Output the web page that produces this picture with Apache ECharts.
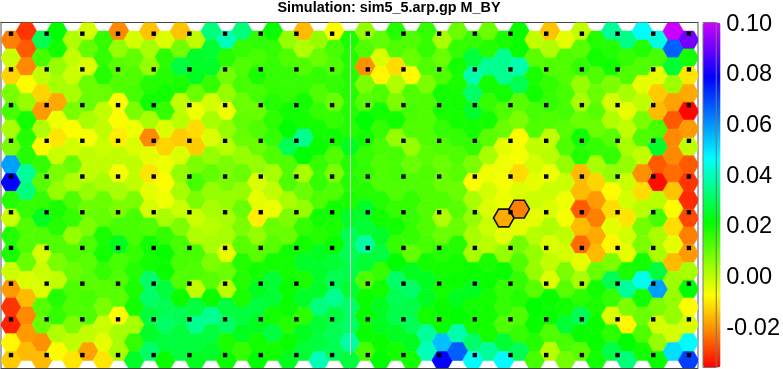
<!DOCTYPE html>
<html>
<head>
<meta charset="utf-8">
<style>
  html, body { margin: 0; padding: 0; background: #fff; }
  #chart { width: 783px; height: 369px; }
</style>
</head>
<body>
<div id="chart"></div>
<script src="https://cdn.jsdelivr.net/npm/echarts@6/dist/echarts.min.js"></script>
<script>
// values in thousandths, one list per zigzag row, 45 columns each
const row00 = [-22,-30,30,22,2,-2,16,-21,-2,-14,-3,-14,0,34,40,34,17,21,5,-15,5,-7,19,5,11,18,13,16,3,10,16,10,19,21,0,-14,-4,0,18,37,35,47,44,100,91]
const row01 = [-1,-26,14,20,0,11,16,5,11,3,17,9,26,27,18,16,14,16,13,2,10,14,18,13,-3,13,10,16,10,16,28,18,36,21,12,2,13,12,20,18,16,18,14,67,20]
const row02 = [-12,-21,0,5,-1,-3,18,12,13,5,18,28,25,26,9,13,19,16,16,13,16,13,18,-20,-8,-11,-7,13,13,20,39,36,36,39,19,13,13,16,13,20,13,13,-4,27,-10]
const row03 = [8,-7,-12,3,3,10,10,13,14,18,20,19,10,16,5,14,14,16,16,16,13,16,18,8,13,2,13,8,20,19,32,20,20,30,20,16,14,5,10,8,3,-4,-13,4,-17]
const row04 = [14,5,-19,-17,8,10,0,-7,8,20,16,0,-5,-2,-5,10,10,18,20,20,16,10,18,12,20,8,14,13,19,20,26,16,13,12,14,16,14,3,12,-2,-4,0,-15,-18,-35]
const row05 = [3,20,2,-5,-7,3,0,-7,-5,3,-3,1,-11,3,5,11,13,17,22,20,20,16,18,22,16,20,13,13,16,20,20,20,10,8,13,13,12,10,10,2,0,8,14,-26,-19]
const row06 = [8,18,-7,-10,-2,-6,-1,-9,-3,-21,-12,-13,-13,-3,1,10,10,16,30,36,21,20,25,20,14,5,5,13,13,16,16,12,-4,-7,0,0,13,20,16,12,3,13,26,-21,0]
const row07 = [59,18,16,-1,10,0,0,0,0,-4,-5,-3,8,5,8,5,5,13,13,22,16,13,18,16,13,14,10,12,10,13,8,3,-5,-6,-2,1,5,18,3,16,5,0,-26,-21,-26]
const row08 = [79,37,12,8,2,0,3,-6,0,-10,-7,5,14,11,8,10,-3,3,13,3,16,8,18,16,13,14,13,13,10,12,-7,-5,-6,-11,-4,-5,-1,-15,-12,5,-1,-20,-34,-24,-30]
const row09 = [18,34,16,5,13,5,10,3,8,-4,-5,3,8,5,5,5,-4,0,3,10,13,13,19,18,18,13,16,13,13,10,3,-2,-5,-3,-1,-1,-5,-15,-19,-7,-2,-11,1,-14,-31]
const row10 = [-1,16,25,19,16,10,11,8,14,-2,3,-1,-1,3,3,10,-9,-5,8,5,20,20,26,26,20,16,16,13,2,12,5,-3,-17,-22,-4,-3,-6,-26,-22,-11,-10,1,14,-7,-28]
const row11 = [18,13,13,18,5,8,19,14,14,13,16,8,2,1,3,8,5,10,10,16,18,19,30,27,26,20,16,13,10,10,3,-1,-4,-4,1,2,0,-15,-17,-4,-2,9,3,-11,-22]
const row12 = [19,13,-2,13,13,13,20,25,16,20,21,14,14,3,-4,12,12,12,20,20,25,21,30,38,28,16,11,14,18,18,3,1,5,9,5,-3,-2,-24,-15,-8,-4,8,3,-4,-19]
const row13 = [-1,10,-1,8,10,12,16,14,18,20,21,14,13,8,10,18,20,20,20,26,26,27,29,27,16,22,25,20,20,20,21,19,21,13,5,0,8,-4,10,8,19,20,28,-15,3]
const row14 = [-19,-3,-3,0,13,12,12,13,19,32,28,13,0,12,1,18,25,27,21,19,26,30,27,13,20,32,32,25,20,21,25,21,16,16,12,-3,12,3,20,30,37,45,59,4,22]
const row15 = [-30,-15,12,18,13,14,8,12,20,32,30,21,28,21,28,19,28,27,21,26,34,36,32,21,25,30,29,25,21,25,20,20,16,18,22,21,20,17,19,16,8,20,8,5,-7]
const row16 = [-32,-21,10,16,8,13,-1,-7,3,28,32,30,36,36,32,28,25,20,18,17,27,28,32,21,25,29,30,20,21,22,20,20,13,13,21,21,27,30,21,-3,-8,10,-2,5,-3]
const row17 = [-8,-19,-20,2,0,0,-4,3,16,26,28,28,28,28,19,25,20,28,21,25,28,30,38,21,21,25,25,37,55,39,32,20,27,16,18,13,14,21,21,17,22,13,5,-2,47]
const row18 = [-13,-15,-15,-7,-10,-18,-10,3,26,32,21,28,25,26,21,16,22,20,25,27,40,30,28,14,22,20,20,40,79,67,47,37,47,30,14,1,9,12,20,29,34,20,21,51,71]
const allRows = [row00,row01,row02,row03,row04,row05,row06,row07,row08,row09,row10,row11,row12,row13,row14,row15,row16,row17,row18]

// the two outlined cells: [column, row]
const outlinedCells = [[32, 10], [33, 10]]
const tickValues = [-0.02, 0, 0.02, 0.04, 0.06, 0.08, 0.1]
const scaleMin = -0.0355
const scaleMax = 0.1007
// colour anchors of the bar: [value, colour]
const colorStops = [
  [-0.0355, [255, 0, 0]],
  [-0.022, [255, 128, 0]],
  [-0.007, [255, 255, 0]],
  [0.022, [0, 255, 0]],
  [0.047, [0, 255, 255]],
  [0.079, [0, 0, 255]],
  [0.1007, [208, 0, 255]]
]

const getColorList = () => {
  const list = []
  for (let k = 0; k <= 128; k++) {
    const v = scaleMin + ((scaleMax - scaleMin) * k) / 128
    let s = 0
    while (s < colorStops.length - 2 && v > colorStops[s + 1][0]) s++
    const a = colorStops[s]
    const b = colorStops[s + 1]
    const t = Math.min(1, Math.max(0, (v - a[0]) / (b[0] - a[0])))
    const c = a[1].map((x, n) => Math.round(x + (b[1][n] - x) * t))
    list.push('rgb(' + c.join(',') + ')')
  }
  return list
}

// odd columns sit half a row higher
const cellY = (col, row) => (col % 2 ? row - 0.5 : row)

const hexData = []
allRows.forEach((vals, row) => {
  vals.forEach((v, col) => {
    hexData.push([col, cellY(col, row), v / 1000])
  })
})

const hexPoints = (api) => {
  const c = api.coord([api.value(0), api.value(1)])
  const r = api.size([1, 0])[0] / 1.5
  const h = (r * Math.sqrt(3)) / 2
  return [
    [c[0] - r, c[1]],
    [c[0] - r / 2, c[1] - h],
    [c[0] + r / 2, c[1] - h],
    [c[0] + r, c[1]],
    [c[0] + r / 2, c[1] + h],
    [c[0] - r / 2, c[1] + h]
  ]
}

// black marks: 20 across, 10 down, in column/row units
const dotXStep = 2.317
const dotYStart = -0.354
const dotYStep = 2.006
const dotData = []
for (let m = 0; m < 10; m++) {
  for (let k = 0; k < 20; k++) {
    dotData.push([k * dotXStep, dotYStart + m * dotYStep])
  }
}
const seamX = 22.045

const xMin = -0.649
const xMax = 44.58
const yMin = -0.983
const yMax = 18.427
const plainAxis = {
  axisTick: { show: false },
  axisLabel: { show: false },
  splitLine: { show: false }
}

const myChart = echarts.init(document.getElementById('chart'), null, { renderer: 'canvas' })
myChart.setOption({
  animation: false,
  backgroundColor: '#fff',
  title: {
    text: 'Simulation: sim5_5.arp.gp M_BY',
    left: 384,
    top: -4,
    textAlign: 'center',
    textStyle: { color: '#000', fontFamily: 'Liberation Sans', fontSize: 14.4, fontWeight: 'bold' }
  },
  grid: [
    { left: 1, top: 22.5, width: 696.5, height: 345.5, show: false },
    { left: 703, top: 22.5, width: 17.5, height: 345, show: true, borderColor: '#777', borderWidth: 1, backgroundColor: 'transparent', z: 6 }
  ],
  xAxis: [
    { ...plainAxis, type: 'value', gridIndex: 0, min: xMin, max: xMax, position: 'bottom', axisLine: { show: true, onZero: false, lineStyle: { color: '#444', width: 1 } } },
    { ...plainAxis, type: 'value', gridIndex: 0, min: xMin, max: xMax, position: 'top', axisLine: { show: true, onZero: false, lineStyle: { color: '#444', width: 1 } } },
    { ...plainAxis, type: 'value', gridIndex: 1, min: 0, max: 1, axisLine: { show: false } }
  ],
  yAxis: [
    { ...plainAxis, type: 'value', gridIndex: 0, min: yMin, max: yMax, inverse: true, position: 'left', axisLine: { show: true, onZero: false, lineStyle: { color: '#aaa', width: 2 } } },
    { ...plainAxis, type: 'value', gridIndex: 0, min: yMin, max: yMax, inverse: true, position: 'right', axisLine: { show: true, onZero: false, lineStyle: { color: '#aaa', width: 2 } } },
    {
      type: 'value',
      gridIndex: 1,
      min: scaleMin,
      max: scaleMax,
      position: 'right',
      axisLine: { show: false },
      splitLine: { show: false },
      axisTick: { show: true, length: 5, customValues: tickValues, lineStyle: { color: '#666' } },
      axisLabel: {
        customValues: tickValues,
        margin: 10,
        color: '#000',
        fontFamily: 'Liberation Sans',
        fontSize: 23.6,
        formatter: (v) => v.toFixed(2)
      }
    }
  ],
  visualMap: {
    type: 'continuous',
    seriesIndex: 0,
    dimension: 2,
    min: scaleMin,
    max: scaleMax,
    calculable: false,
    realtime: false,
    left: 703,
    top: 22.5,
    itemWidth: 17.5,
    itemHeight: 345,
    padding: 0,
    text: ['', ''],
    showLabel: false,
    inRange: { color: getColorList() }
  },
  series: [
    {
      name: 'cells',
      type: 'custom',
      coordinateSystem: 'cartesian2d',
      xAxisIndex: 0,
      yAxisIndex: 0,
      clip: true,
      silent: true,
      data: hexData,
      renderItem: (params, api) => {
        const color = api.visual('color')
        return {
          type: 'polygon',
          shape: { points: hexPoints(api) },
          style: { fill: color, stroke: color, lineWidth: 0.6 }
        }
      }
    },
    {
      name: 'outlined',
      type: 'custom',
      coordinateSystem: 'cartesian2d',
      xAxisIndex: 0,
      yAxisIndex: 0,
      silent: true,
      z: 3,
      data: outlinedCells.map((c) => [c[0], cellY(c[0], c[1])]),
      renderItem: (params, api) => {
        return {
          type: 'polygon',
          shape: { points: hexPoints(api) },
          style: { fill: 'none', stroke: '#111', lineWidth: 1.6 }
        }
      }
    },
    {
      name: 'seam',
      type: 'line',
      xAxisIndex: 0,
      yAxisIndex: 0,
      silent: true,
      symbol: 'none',
      z: 4,
      lineStyle: { color: '#fff', width: 1, opacity: 0.85 },
      data: [[seamX, dotYStart], [seamX, dotYStart + 9 * dotYStep]]
    },
    {
      name: 'marks',
      type: 'scatter',
      xAxisIndex: 0,
      yAxisIndex: 0,
      silent: true,
      symbol: 'rect',
      symbolSize: 4.4,
      z: 5,
      itemStyle: { color: '#000', opacity: 1 },
      data: dotData
    }
  ]
})
</script>
</body>
</html>
